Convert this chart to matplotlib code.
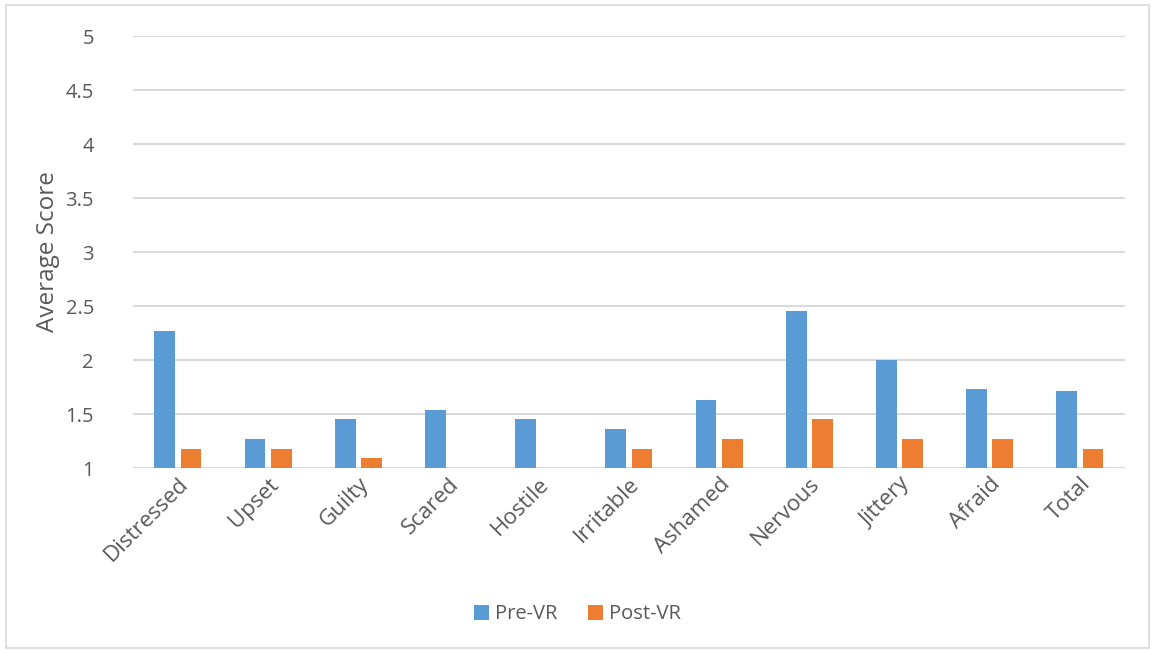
import numpy as np
import matplotlib.pyplot as plt
from matplotlib.patches import Rectangle

plt.rcParams["font.family"] = ["Open Sans", "DejaVu Sans"]

categories = ["Distressed", "Upset", "Guilty", "Scared", "Hostile", "Irritable",
              "Ashamed", "Nervous", "Jittery", "Afraid", "Total"]
pre_vr = [2.27, 1.27, 1.45, 1.54, 1.45, 1.36, 1.63, 2.45, 2.00, 1.73, 1.71]
post_vr = [1.18, 1.18, 1.09, 1.00, 1.00, 1.18, 1.27, 1.45, 1.27, 1.27, 1.18]

blue = "#5B9BD5"
orange = "#ED7D31"
text_col = "#595959"

fig = plt.figure(figsize=(11.55, 6.5), dpi=100)
ax = fig.add_axes([0.115, 0.28, 0.859, 0.6646])

x = np.arange(len(categories))
w = 0.23
gap = 0.03
ax.bar(x - w / 2 - gap, np.array(pre_vr) - 1, w, bottom=1, color=blue,
       label="Pre-VR", zorder=3)
ax.bar(x + w / 2 + gap, np.array(post_vr) - 1, w, bottom=1, color=orange,
       label="Post-VR", zorder=3)

ax.set_ylim(1, 5)
ax.set_xlim(-0.5, len(categories) - 0.5)
ax.set_yticks(np.arange(1, 5.01, 0.5))
ax.set_yticklabels(["1", "1.5", "2", "2.5", "3", "3.5", "4", "4.5", "5"])
ax.yaxis.grid(True, color="#d9d9d9", linewidth=1.5, zorder=0)
ax.set_axisbelow(True)
for s in ax.spines.values():
    s.set_visible(False)
ax.tick_params(axis="y", length=0, labelsize=14.5, labelcolor=text_col, pad=28)
ax.tick_params(axis="x", length=0, labelsize=16, labelcolor=text_col, pad=4)

ax.set_xticks(x)
ax.set_xticklabels(categories, rotation=45, ha="right", rotation_mode="anchor")
ax.set_ylabel("Average Score", fontsize=17.5, color=text_col, labelpad=4)

ax.legend(loc="center", bbox_to_anchor=(0.5, 0.055), bbox_transform=fig.transFigure,
          ncol=2, frameon=False, fontsize=14.5, labelcolor=text_col,
          handlelength=0.75, handleheight=0.75, handletextpad=0.3, columnspacing=1.5)

fig.patches.append(Rectangle((0.005, 0.003), 0.99, 0.99, transform=fig.transFigure,
                             fill=False, edgecolor="#d9d9d9", linewidth=1.2))

fig.savefig("out.png", dpi=100, facecolor="white")
